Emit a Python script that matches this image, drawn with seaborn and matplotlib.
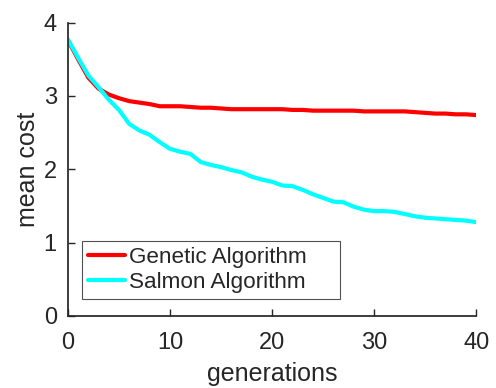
import matplotlib
matplotlib.use("Agg")
import matplotlib.pyplot as plt
import numpy as np
import pandas as pd
import seaborn as sns

generations = list(range(41))
genetic = [3.76, 3.50, 3.25, 3.10, 3.02, 2.97, 2.93, 2.91, 2.89, 2.86,
           2.86, 2.86, 2.85, 2.84, 2.84, 2.83, 2.82, 2.82, 2.82, 2.82,
           2.82, 2.82, 2.81, 2.81, 2.80, 2.80, 2.80, 2.80, 2.80, 2.79,
           2.79, 2.79, 2.79, 2.79, 2.78, 2.77, 2.76, 2.76, 2.75, 2.75, 2.74]
salmon = [3.77, 3.52, 3.28, 3.12, 2.95, 2.81, 2.62, 2.53, 2.47, 2.37,
          2.28, 2.24, 2.21, 2.10, 2.06, 2.03, 1.99, 1.96, 1.90, 1.86,
          1.83, 1.78, 1.77, 1.72, 1.66, 1.61, 1.56, 1.55, 1.49, 1.45,
          1.43, 1.43, 1.42, 1.39, 1.36, 1.34, 1.33, 1.32, 1.31, 1.30, 1.28]
series_names = ["Genetic Algorithm", "Salmon Algorithm"]
x_ticks = [0, 10, 20, 30, 40]
y_ticks = [0, 1, 2, 3, 4]

sns.set_theme(style="ticks", rc={
    "xtick.direction": "in",
    "ytick.direction": "in",
    "axes.edgecolor": "#262626",
    "xtick.color": "#262626",
    "ytick.color": "#262626",
})
plt.rcParams["font.family"] = ["Liberation Sans", "DejaVu Sans"]

df = pd.DataFrame({
    "generations": generations * 2,
    "mean cost": genetic + salmon,
    "method": [series_names[0]] * len(genetic) + [series_names[1]] * len(salmon),
})

fig = plt.figure(figsize=(4.96, 3.88), dpi=100)
ax = fig.add_axes([0.137, 0.1856, 0.823, 0.756])
sns.lineplot(data=df, x="generations", y="mean cost", hue="method",
             palette=["#ff0000", "#00ffff"], linewidth=3, ax=ax)

ax.set_xlim(0, 40)
ax.set_ylim(0, 4)
ax.set_xticks(x_ticks)
ax.set_yticks(y_ticks)
ax.tick_params(labelsize=17, length=5, width=1, labelcolor="#262626")
ax.tick_params(axis="x", pad=11.5)
ax.tick_params(axis="y", pad=8)
ax.set_xlabel("generations", fontsize=18, color="#262626", labelpad=6)
ax.set_ylabel("mean cost", fontsize=18, color="#262626", labelpad=3)
sns.despine(ax=ax)

leg = ax.legend(loc="lower left", bbox_to_anchor=(0.0343, 0.058, 0.632, 0.0),
                mode="expand", fontsize=16.2, frameon=True, fancybox=False,
                handlelength=1.65, handletextpad=0.2, borderpad=0.25,
                labelspacing=0.2, borderaxespad=0)
leg.get_frame().set_edgecolor("#262626")
leg.get_frame().set_linewidth(0.8)
for line in leg.get_lines():
    line.set_linewidth(3)

fig.savefig("out.png", dpi=100)
